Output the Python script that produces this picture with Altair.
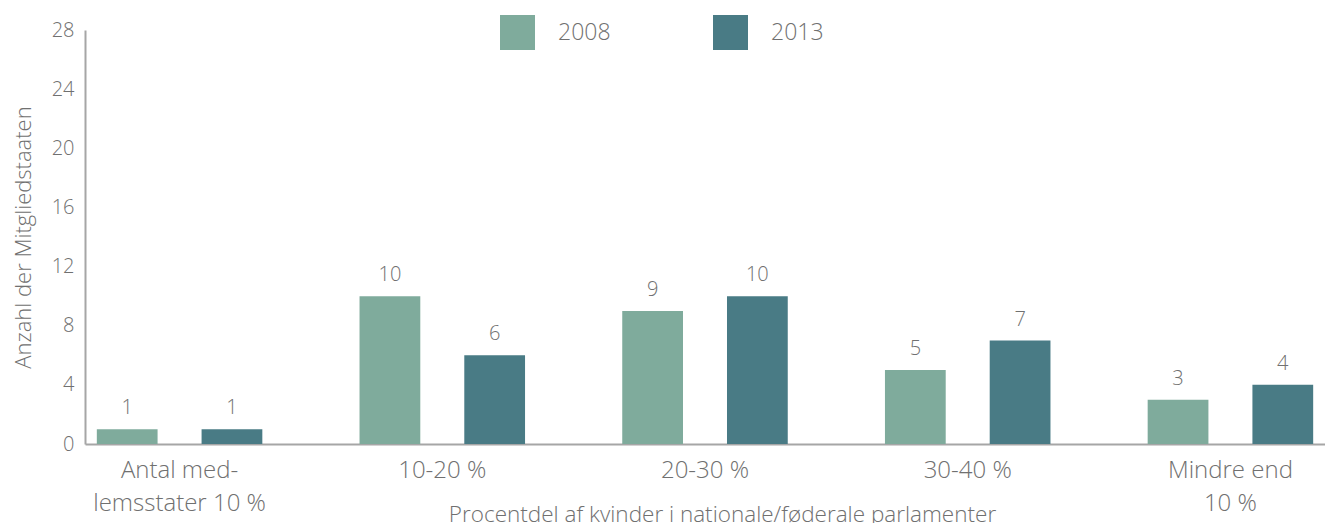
import altair as alt
import pandas as pd

categories = ["Antal med-\nlemsstater 10 %", "10-20 %", "20-30 %", "30-40 %", "Mindre end\n10 %"]
years = ["2008", "2013"]
values_2008 = [1, 10, 9, 5, 3]
values_2013 = [1, 6, 10, 7, 4]
colors = ["#7fab9c", "#497b85"]
y_ticks = [0, 4, 8, 12, 16, 20, 24, 28]

rows = []
for c, v in zip(categories, values_2008):
    rows.append({"cat": c, "year": "2008", "value": v})
for c, v in zip(categories, values_2013):
    rows.append({"cat": c, "year": "2013", "value": v})
df = pd.DataFrame(rows)

FONT = "Open Sans"
TXT = "#707070"

x_enc = alt.X(
    "cat:N",
    sort=categories,
    scale=alt.Scale(paddingInner=0.37, paddingOuter=0.045),
    axis=alt.Axis(
        title="Procentdel af kvinder i nationale/føderale parlamenter",
        labelAngle=0,
        labelExpr="split(datum.value, '\\n')",
        labelFontSize=24,
        labelLineHeight=33,
        labelPadding=14,
        labelBaseline="top",
        labelColor=TXT,
        labelFont=FONT,
        labelFontWeight=300,
        ticks=False,
        grid=False,
        domainColor="#a6a6a6",
        domainWidth=2,
        titleFontSize=22.5,
        titleFont=FONT,
        titleFontWeight=300,
        titleColor=TXT,
        titleY=70,
        titleX=637,
        titleBaseline="middle",
    ),
)
xoff = alt.XOffset("year:N", sort=years, scale=alt.Scale(paddingInner=0.42, paddingOuter=0))
y_enc = alt.Y(
    "value:Q",
    scale=alt.Scale(domain=[0, 28], nice=False),
    axis=alt.Axis(
        title="Anzahl der Mitgliedstaaten",
        values=y_ticks,
        grid=False,
        ticks=False,
        labelFontSize=20,
        labelPadding=11,
        labelColor=TXT,
        labelFont=FONT,
        labelFontWeight=300,
        domainColor="#a6a6a6",
        domainWidth=2,
        titleFontSize=22,
        titleFont=FONT,
        titleFontWeight=300,
        titleColor=TXT,
        titlePadding=16,
    ),
)

base = alt.Chart(df).encode(x=x_enc, xOffset=xoff, y=y_enc)

bars = base.mark_bar().encode(
    color=alt.Color(
        "year:N",
        sort=years,
        scale=alt.Scale(domain=years, range=colors),
        legend=alt.Legend(
            title=None,
            orient="none",
            legendX=415,
            legendY=-15,
            direction="horizontal",
            symbolType="square",
            symbolSize=1225,
            symbolStrokeWidth=0,
            symbolOpacity=1,
            labelFontSize=23,
            labelFont=FONT,
            labelFontWeight=300,
            labelColor=TXT,
            labelOffset=23,
            columnPadding=102,
        ),
    ),
)

labels = base.mark_text(
    baseline="bottom", dy=-11, fontSize=20, font=FONT, fontWeight=300, color=TXT
).encode(text=alt.Text("value:Q"))

chart = (
    alt.layer(bars, labels)
    .properties(
        width=1240,
        height=414,
        autosize=alt.AutoSizeParams(type="none"),
        padding={"left": 77, "top": 22, "right": 0, "bottom": 79},
    )
    .configure(font=FONT)
    .configure_view(stroke=None, strokeWidth=0)
    .configure_axis(grid=False)
)

chart.save("out.html", embed_options={"renderer": "svg", "actions": False})
